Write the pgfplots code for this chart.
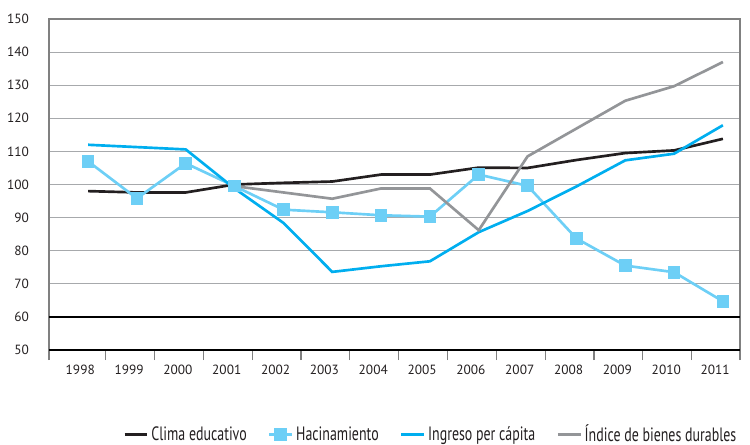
\documentclass[border=0pt]{standalone}
\usepackage{fontspec}
\setmainfont{PT Sans}
\newfontfamily\legendfont[FakeStretch=0.72]{PT Sans}
\usepackage{pgfplots}
\pgfplotsset{compat=1.18}
\definecolor{clima}{HTML}{231F20}
\definecolor{hacin}{HTML}{6DCFF6}
\definecolor{ingreso}{HTML}{00AEEF}
\definecolor{indice}{HTML}{939598}
\definecolor{gridg}{HTML}{A7A9AC}
\definecolor{frameg}{HTML}{808080}
\begin{document}
\begin{tikzpicture}
\begin{axis}[
  at={(0,0)}, anchor=south west,
  scale only axis, width=518.25pt, height=248.25pt,
  xmin=-0.8, xmax=13.35, ymin=50, ymax=150,
  ytick={50,60,...,150},
  ymajorgrids, grid style={gridg, line width=0.8pt},
  axis line style={frameg, line width=0.8pt},
  xtick={-0.8,0.36,1.36,2.36,3.36,4.36,5.36,6.36,7.36,8.36,9.36,10.36,11.36,12.36,13.35},
  xticklabels={},
  x tick style={frameg, line width=0.8pt},
  tick align=outside, xtick pos=bottom, ytick pos=left,
  major tick length=7.5pt,
  y tick style={draw=none},
  extra x ticks={-0.16,0.84,1.84,2.84,3.84,4.84,5.84,6.84,7.84,8.84,9.84,10.84,11.84,12.84},
  extra x tick labels={1998,1999,2000,2001,2002,2003,2004,2005,2006,2007,2008,2009,2010,2011},
  extra x tick style={major tick length=0pt, tick style={draw=none}},
  /pgf/number format/assume math mode=true,
  /pgf/number format/1000 sep={},
  ticklabel style={font=\fontsize{10}{12}\selectfont, text=clima},
  xticklabel style={yshift=-8pt},
  yticklabel style={xshift=-4pt},
  legend columns=4,
  legend style={draw=none, fill=none, at={(0.553,-0.255)}, anchor=center,
    font=\legendfont\fontsize{14.5}{16}\selectfont, text=clima,
    /tikz/every even column/.append style={column sep=14pt}},
  legend image code/.code={\draw[mark repeat=2,mark phase=2,#1] plot coordinates {(0cm,0cm) (0.3cm,0cm) (0.6cm,0cm)};},
  clip=false,
]
\addplot[clima, line width=2pt] coordinates {
(0,98.0) (1,97.6) (2,97.6) (3,100.0) (4,100.5) (5,100.9) (6,103.0) (7,103.0) (8,105.1) (9,105.0) (10,107.4) (11,109.5) (12,110.3) (13,113.8)};
\addlegendentry{Clima educativo}
\addplot[hacin, line width=2pt, mark=square*, mark size=3.75pt, mark options={solid}] coordinates {
(0,107.0) (1,95.8) (2,106.4) (3,99.5) (4,92.4) (5,91.6) (6,90.7) (7,90.3) (8,103.0) (9,99.6) (10,83.7) (11,75.5) (12,73.5) (13,64.7)};
\addlegendentry{Hacinamiento}
\addplot[ingreso, line width=2pt] coordinates {
(0,112.0) (1,111.3) (2,110.6) (3,98.8) (4,88.4) (5,73.6) (6,75.3) (7,76.8) (8,85.6) (9,92.0) (10,99.4) (11,107.3) (12,109.3) (13,117.9)};
\addlegendentry{Ingreso per cápita}
\addplot[indice, line width=2pt] coordinates {
(3,99.5) (4,97.6) (5,95.7) (6,98.8) (7,98.8) (8,86.2) (9,108.5) (10,116.9) (11,125.3) (12,129.7) (13,137.0)};
\addlegendentry{Índice de bienes durables}
\draw[black, line width=0.9pt] (axis cs:-0.8,60) -- (axis cs:13.35,60);
\draw[black, line width=0.9pt] (axis cs:-0.8,50) -- (axis cs:13.35,50);
\end{axis}
\pgfresetboundingbox
\path (-36.75pt,-70.5pt) rectangle (525.75pt,262.5pt);
\end{tikzpicture}
\end{document}
